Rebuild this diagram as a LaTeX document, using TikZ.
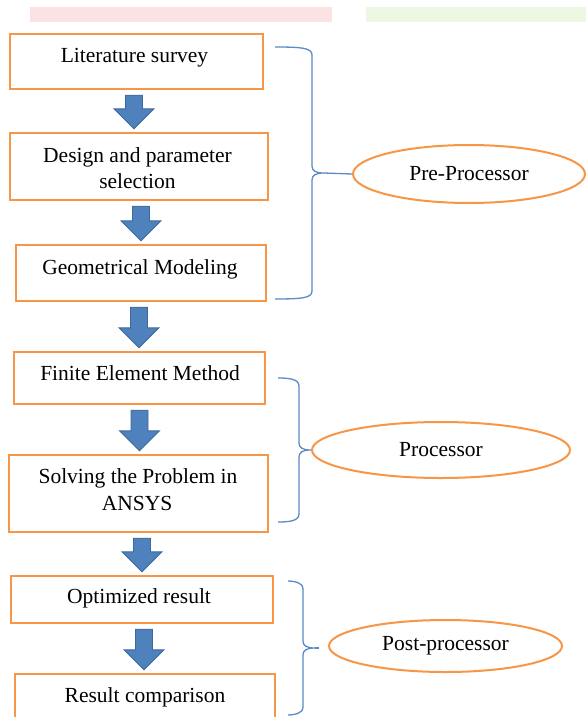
\documentclass[tikz,border=0pt]{standalone}
\usepackage{fontspec}
\setmainfont{Liberation Serif}
\usetikzlibrary{calc,shapes.geometric}
\definecolor{boxorange}{HTML}{F79646}
\definecolor{arrfill}{HTML}{4F81BD}
\definecolor{arrline}{HTML}{3C6A9E}
\definecolor{bracecol}{HTML}{5B8AC6}
\definecolor{bandpink}{HTML}{FBE3E3}
\definecolor{bandgreen}{HTML}{EEF6E4}
\tikzset{
  flowbox/.style={draw=boxorange, line width=2.4pt, fill=white, rectangle, inner sep=0pt},
  boxtext/.style={anchor=base, inner sep=0pt, font=\fontsize{21.5}{26}\selectfont},
  ovalbox/.style={draw=boxorange, line width=2pt, ellipse, inner sep=0pt, font=\fontsize{21.5}{26}\selectfont},
  arrst/.style={fill=arrfill, draw=arrline, line width=0.9pt, line join=miter},
  bracest/.style={draw=bracecol, line width=1.3pt}
}
\newcommand{\blockarr}[3]{%
  \filldraw[arrst] let \p1=($(#1.south)+(#3,-5)$), \p2=($(#2.north)+(#3,3)$) in
    (\x1-8.5pt,\y1) -- (\x1+8.5pt,\y1) -- (\x1+8.5pt,\y2+20pt) -- (\x1+20pt,\y2+20pt)
    -- (\x1,\y2) -- (\x1-20pt,\y2+20pt) -- (\x1-8.5pt,\y2+20pt) -- cycle;}
% #1 end x, #2 vertical x, #3 top y, #4 bottom y, #5 tip y, #6 tip name
\newcommand{\wbrace}[6]{%
  \draw[bracest] (#1,-#3) .. controls ({#2-10},-#3) and (#2,{-#3-1}) .. (#2,{-#3-8})
    -- (#2,{-#5+7}) .. controls (#2,{-#5+2}) and ({#2+4},-#5) .. ({#2+12},-#5) coordinate (#6)
    .. controls ({#2+4},-#5) and (#2,{-#5-2}) .. (#2,{-#5-7})
    -- (#2,{-#4+8}) .. controls (#2,{-#4+1}) and ({#2-10},-#4) .. (#1,-#4);}
\begin{document}
\begin{tikzpicture}[x=1pt,y=1pt]
\useasboundingbox (0,0) rectangle (586,-717);
\clip (0,0) rectangle (586,-717);
\fill[white] (0,0) rectangle (586,-717);
% faint header bands
\fill[bandpink] (30,-7) rectangle (332,-22);
\fill[bandgreen] (366,-7) rectangle (586,-22);
% boxes
\node[flowbox, minimum width=253pt, minimum height=55pt] (b1) at (136.5,-61.5) {};
\node[flowbox, minimum width=258pt, minimum height=67pt] (b2) at (139,-166.5) {};
\node[flowbox, minimum width=250pt, minimum height=56pt] (b3) at (141,-273) {};
\node[flowbox, minimum width=251pt, minimum height=52pt] (b4) at (139.5,-378) {};
\node[flowbox, minimum width=259pt, minimum height=77pt] (b5) at (138.5,-493.5) {};
\node[flowbox, minimum width=262pt, minimum height=47pt] (b6) at (142,-599.5) {};
\node[flowbox, minimum width=260pt, minimum height=52pt] (b7) at (145,-700) {};
% texts
\node[boxtext] (t1) at (134.5,-63) {Literature survey};
\node[boxtext] (t2a) at (137.5,-162) {Design and parameter};
\node[boxtext] (t2b) at (137.5,-188) {selection};
\node[boxtext] (t3) at (140,-274) {Geometrical Modeling};
\node[boxtext] (t4) at (140,-380) {Finite Element Method};
\node[boxtext] (t5a) at (138,-483) {Solving the Problem in};
\node[boxtext] (t5b) at (137,-510) {ANSYS};
\node[boxtext] (t6) at (139,-603) {Optimized result};
\node[boxtext] (t7) at (145,-702) {Result comparison};
% block arrows
\blockarr{b1}{b2}{-2.5}
\blockarr{b2}{b3}{2}
\blockarr{b3}{b4}{-2}
\blockarr{b4}{b5}{0}
\blockarr{b5}{b6}{3.5}
\blockarr{b6}{b7}{2}
% ellipses
\node[ovalbox, minimum width=232pt, minimum height=58pt] (e1) at (469,-174) {Pre-Processor};
\node[ovalbox, minimum width=258pt, minimum height=56pt] (e2) at (441,-450) {Processor};
\node[ovalbox, minimum width=233pt, minimum height=52pt] (e3) at (445.5,-646) {Post-processor};
% braces
\wbrace{275}{312}{47}{299}{173}{p1}
\wbrace{278}{299}{378}{522}{450}{p2}
\wbrace{288}{303}{581}{715}{648}{p3}
\coordinate (p3end) at (319,-648);
\draw[bracest] (p1) -- (e1.west);
\draw[bracest] (p2) -- (e2.west);
\draw[bracest] (p3) -- (p3end);
\end{tikzpicture}
\end{document}
